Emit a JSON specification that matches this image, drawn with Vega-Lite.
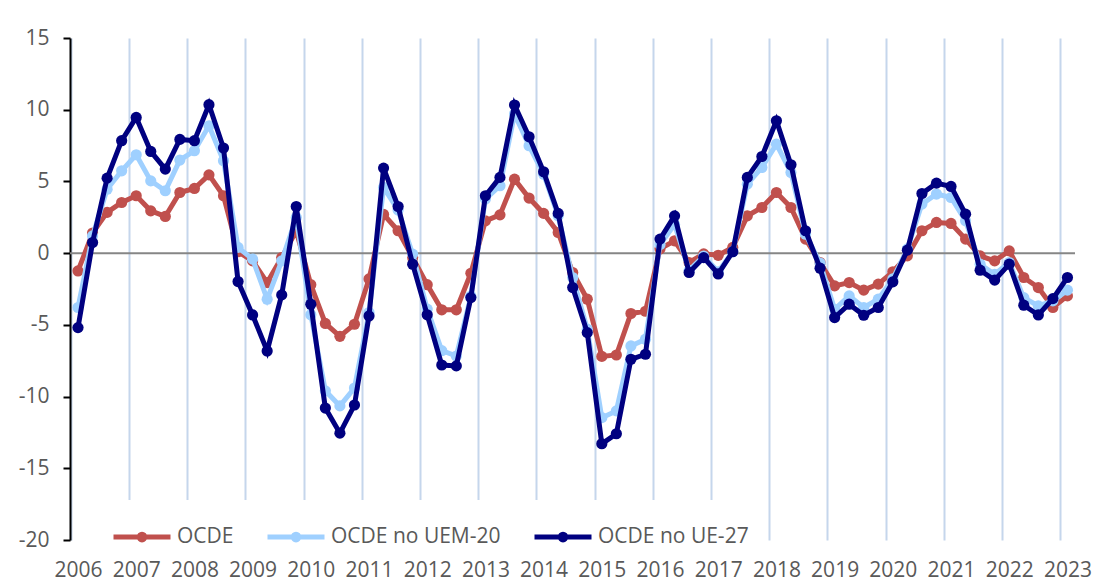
{
  "$schema": "https://vega.github.io/schema/vega-lite/v6.json",
  "width": 1005,
  "height": 502,
  "autosize": {"type": "none"},
  "padding": {"left": 70, "top": 38, "right": 19, "bottom": 42},
  "background": "white",
  "config": {"view": {"stroke": null}, "font": "Open Sans"},
  "datasets": {
    "d": [
      {"t":2006,"s":"OCDE","v":-1.24},{"t":2006.25,"s":"OCDE","v":1.4},{"t":2006.5,"s":"OCDE","v":2.84},{"t":2006.75,"s":"OCDE","v":3.53},
      {"t":2007,"s":"OCDE","v":4.0},{"t":2007.25,"s":"OCDE","v":2.95},{"t":2007.5,"s":"OCDE","v":2.56},{"t":2007.75,"s":"OCDE","v":4.23},
      {"t":2008,"s":"OCDE","v":4.51},{"t":2008.25,"s":"OCDE","v":5.46},{"t":2008.5,"s":"OCDE","v":4.0},{"t":2008.75,"s":"OCDE","v":0.1},
      {"t":2009,"s":"OCDE","v":-0.54},{"t":2009.25,"s":"OCDE","v":-2.05},{"t":2009.5,"s":"OCDE","v":-0.31},{"t":2009.75,"s":"OCDE","v":1.56},
      {"t":2010,"s":"OCDE","v":-2.2},{"t":2010.25,"s":"OCDE","v":-4.9},{"t":2010.5,"s":"OCDE","v":-5.8},{"t":2010.75,"s":"OCDE","v":-4.96},
      {"t":2011,"s":"OCDE","v":-1.8},{"t":2011.25,"s":"OCDE","v":2.7},{"t":2011.5,"s":"OCDE","v":1.56},{"t":2011.75,"s":"OCDE","v":-0.31},
      {"t":2012,"s":"OCDE","v":-2.2},{"t":2012.25,"s":"OCDE","v":-3.95},{"t":2012.5,"s":"OCDE","v":-3.95},{"t":2012.75,"s":"OCDE","v":-1.4},
      {"t":2013,"s":"OCDE","v":2.25},{"t":2013.25,"s":"OCDE","v":2.67},{"t":2013.5,"s":"OCDE","v":5.16},{"t":2013.75,"s":"OCDE","v":3.84},
      {"t":2014,"s":"OCDE","v":2.77},{"t":2014.25,"s":"OCDE","v":1.44},{"t":2014.5,"s":"OCDE","v":-1.35},{"t":2014.75,"s":"OCDE","v":-3.21},
      {"t":2015,"s":"OCDE","v":-7.2},{"t":2015.25,"s":"OCDE","v":-7.1},{"t":2015.5,"s":"OCDE","v":-4.21},{"t":2015.75,"s":"OCDE","v":-4.05},
      {"t":2016,"s":"OCDE","v":0.3},{"t":2016.25,"s":"OCDE","v":0.86},{"t":2016.5,"s":"OCDE","v":-0.65},{"t":2016.75,"s":"OCDE","v":-0.05},
      {"t":2017,"s":"OCDE","v":-0.15},{"t":2017.25,"s":"OCDE","v":0.4},{"t":2017.5,"s":"OCDE","v":2.6},{"t":2017.75,"s":"OCDE","v":3.18},
      {"t":2018,"s":"OCDE","v":4.23},{"t":2018.25,"s":"OCDE","v":3.18},{"t":2018.5,"s":"OCDE","v":0.98},{"t":2018.75,"s":"OCDE","v":-0.65},
      {"t":2019,"s":"OCDE","v":-2.28},{"t":2019.25,"s":"OCDE","v":-2.05},{"t":2019.5,"s":"OCDE","v":-2.58},{"t":2019.75,"s":"OCDE","v":-2.16},
      {"t":2020,"s":"OCDE","v":-1.3},{"t":2020.25,"s":"OCDE","v":-0.19},{"t":2020.5,"s":"OCDE","v":1.56},{"t":2020.75,"s":"OCDE","v":2.14},
      {"t":2021,"s":"OCDE","v":2.07},{"t":2021.25,"s":"OCDE","v":0.98},{"t":2021.5,"s":"OCDE","v":-0.19},{"t":2021.75,"s":"OCDE","v":-0.54},
      {"t":2022,"s":"OCDE","v":0.16},{"t":2022.25,"s":"OCDE","v":-1.7},{"t":2022.5,"s":"OCDE","v":-2.4},{"t":2022.75,"s":"OCDE","v":-3.79},
      {"t":2023,"s":"OCDE","v":-2.98},

      {"t":2006,"s":"OCDE no UEM-20","v":-3.79},{"t":2006.25,"s":"OCDE no UEM-20","v":1.2},{"t":2006.5,"s":"OCDE no UEM-20","v":4.46},{"t":2006.75,"s":"OCDE no UEM-20","v":5.74},
      {"t":2007,"s":"OCDE no UEM-20","v":6.86},{"t":2007.25,"s":"OCDE no UEM-20","v":5.04},{"t":2007.5,"s":"OCDE no UEM-20","v":4.35},{"t":2007.75,"s":"OCDE no UEM-20","v":6.49},
      {"t":2008,"s":"OCDE no UEM-20","v":7.14},{"t":2008.25,"s":"OCDE no UEM-20","v":8.88},{"t":2008.5,"s":"OCDE no UEM-20","v":6.44},{"t":2008.75,"s":"OCDE no UEM-20","v":0.4},
      {"t":2009,"s":"OCDE no UEM-20","v":-0.42},{"t":2009.25,"s":"OCDE no UEM-20","v":-3.21},{"t":2009.5,"s":"OCDE no UEM-20","v":-0.54},{"t":2009.75,"s":"OCDE no UEM-20","v":2.49},
      {"t":2010,"s":"OCDE no UEM-20","v":-4.3},{"t":2010.25,"s":"OCDE no UEM-20","v":-9.6},{"t":2010.5,"s":"OCDE no UEM-20","v":-10.65},{"t":2010.75,"s":"OCDE no UEM-20","v":-9.4},
      {"t":2011,"s":"OCDE no UEM-20","v":-4.14},{"t":2011.25,"s":"OCDE no UEM-20","v":4.58},{"t":2011.5,"s":"OCDE no UEM-20","v":3.0},{"t":2011.75,"s":"OCDE no UEM-20","v":-0.07},
      {"t":2012,"s":"OCDE no UEM-20","v":-3.9},{"t":2012.25,"s":"OCDE no UEM-20","v":-6.8},{"t":2012.5,"s":"OCDE no UEM-20","v":-7.17},{"t":2012.75,"s":"OCDE no UEM-20","v":-3.0},
      {"t":2013,"s":"OCDE no UEM-20","v":3.77},{"t":2013.25,"s":"OCDE no UEM-20","v":4.7},{"t":2013.5,"s":"OCDE no UEM-20","v":9.7},{"t":2013.75,"s":"OCDE no UEM-20","v":7.49},
      {"t":2014,"s":"OCDE no UEM-20","v":5.5},{"t":2014.25,"s":"OCDE no UEM-20","v":2.6},{"t":2014.5,"s":"OCDE no UEM-20","v":-1.7},{"t":2014.75,"s":"OCDE no UEM-20","v":-5.3},
      {"t":2015,"s":"OCDE no UEM-20","v":-11.47},{"t":2015.25,"s":"OCDE no UEM-20","v":-11.0},{"t":2015.5,"s":"OCDE no UEM-20","v":-6.47},{"t":2015.75,"s":"OCDE no UEM-20","v":-6.0},
      {"t":2016,"s":"OCDE no UEM-20","v":0.6},{"t":2016.25,"s":"OCDE no UEM-20","v":2.0},{"t":2016.5,"s":"OCDE no UEM-20","v":-1.2},{"t":2016.75,"s":"OCDE no UEM-20","v":-0.2},
      {"t":2017,"s":"OCDE no UEM-20","v":-1.3},{"t":2017.25,"s":"OCDE no UEM-20","v":0.1},{"t":2017.5,"s":"OCDE no UEM-20","v":4.81},{"t":2017.75,"s":"OCDE no UEM-20","v":5.97},
      {"t":2018,"s":"OCDE no UEM-20","v":7.6},{"t":2018.25,"s":"OCDE no UEM-20","v":5.62},{"t":2018.5,"s":"OCDE no UEM-20","v":1.32},{"t":2018.75,"s":"OCDE no UEM-20","v":-0.7},
      {"t":2019,"s":"OCDE no UEM-20","v":-3.91},{"t":2019.25,"s":"OCDE no UEM-20","v":-2.98},{"t":2019.5,"s":"OCDE no UEM-20","v":-3.79},{"t":2019.75,"s":"OCDE no UEM-20","v":-3.21},
      {"t":2020,"s":"OCDE no UEM-20","v":-1.8},{"t":2020.25,"s":"OCDE no UEM-20","v":0.3},{"t":2020.5,"s":"OCDE no UEM-20","v":3.42},{"t":2020.75,"s":"OCDE no UEM-20","v":4.12},
      {"t":2021,"s":"OCDE no UEM-20","v":3.88},{"t":2021.25,"s":"OCDE no UEM-20","v":2.25},{"t":2021.5,"s":"OCDE no UEM-20","v":-0.77},{"t":2021.75,"s":"OCDE no UEM-20","v":-1.47},
      {"t":2022,"s":"OCDE no UEM-20","v":-0.65},{"t":2022.25,"s":"OCDE no UEM-20","v":-3.1},{"t":2022.5,"s":"OCDE no UEM-20","v":-3.68},{"t":2022.75,"s":"OCDE no UEM-20","v":-3.33},
      {"t":2023,"s":"OCDE no UEM-20","v":-2.58},

      {"t":2006,"s":"OCDE no UE-27","v":-5.19},{"t":2006.25,"s":"OCDE no UE-27","v":0.74},{"t":2006.5,"s":"OCDE no UE-27","v":5.23},{"t":2006.75,"s":"OCDE no UE-27","v":7.84},
      {"t":2007,"s":"OCDE no UE-27","v":9.46},{"t":2007.25,"s":"OCDE no UE-27","v":7.09},{"t":2007.5,"s":"OCDE no UE-27","v":5.86},{"t":2007.75,"s":"OCDE no UE-27","v":7.93},
      {"t":2008,"s":"OCDE no UE-27","v":7.84},{"t":2008.25,"s":"OCDE no UE-27","v":10.35},{"t":2008.5,"s":"OCDE no UE-27","v":7.33},{"t":2008.75,"s":"OCDE no UE-27","v":-1.98},
      {"t":2009,"s":"OCDE no UE-27","v":-4.31},{"t":2009.25,"s":"OCDE no UE-27","v":-6.82},{"t":2009.5,"s":"OCDE no UE-27","v":-2.91},{"t":2009.75,"s":"OCDE no UE-27","v":3.25},
      {"t":2010,"s":"OCDE no UE-27","v":-3.56},{"t":2010.25,"s":"OCDE no UE-27","v":-10.8},{"t":2010.5,"s":"OCDE no UE-27","v":-12.55},{"t":2010.75,"s":"OCDE no UE-27","v":-10.59},
      {"t":2011,"s":"OCDE no UE-27","v":-4.38},{"t":2011.25,"s":"OCDE no UE-27","v":5.93},{"t":2011.5,"s":"OCDE no UE-27","v":3.25},{"t":2011.75,"s":"OCDE no UE-27","v":-0.77},
      {"t":2012,"s":"OCDE no UE-27","v":-4.3},{"t":2012.25,"s":"OCDE no UE-27","v":-7.8},{"t":2012.5,"s":"OCDE no UE-27","v":-7.86},{"t":2012.75,"s":"OCDE no UE-27","v":-3.1},
      {"t":2013,"s":"OCDE no UE-27","v":4.0},{"t":2013.25,"s":"OCDE no UE-27","v":5.28},{"t":2013.5,"s":"OCDE no UE-27","v":10.33},{"t":2013.75,"s":"OCDE no UE-27","v":8.11},
      {"t":2014,"s":"OCDE no UE-27","v":5.67},{"t":2014.25,"s":"OCDE no UE-27","v":2.77},{"t":2014.5,"s":"OCDE no UE-27","v":-2.4},{"t":2014.75,"s":"OCDE no UE-27","v":-5.54},
      {"t":2015,"s":"OCDE no UE-27","v":-13.29},{"t":2015.25,"s":"OCDE no UE-27","v":-12.59},{"t":2015.5,"s":"OCDE no UE-27","v":-7.4},{"t":2015.75,"s":"OCDE no UE-27","v":-7.05},
      {"t":2016,"s":"OCDE no UE-27","v":0.98},{"t":2016.25,"s":"OCDE no UE-27","v":2.6},{"t":2016.5,"s":"OCDE no UE-27","v":-1.35},{"t":2016.75,"s":"OCDE no UE-27","v":-0.31},
      {"t":2017,"s":"OCDE no UE-27","v":-1.45},{"t":2017.25,"s":"OCDE no UE-27","v":0.1},{"t":2017.5,"s":"OCDE no UE-27","v":5.28},{"t":2017.75,"s":"OCDE no UE-27","v":6.74},
      {"t":2018,"s":"OCDE no UE-27","v":9.23},{"t":2018.25,"s":"OCDE no UE-27","v":6.16},{"t":2018.5,"s":"OCDE no UE-27","v":1.56},{"t":2018.75,"s":"OCDE no UE-27","v":-1.05},
      {"t":2019,"s":"OCDE no UE-27","v":-4.49},{"t":2019.25,"s":"OCDE no UE-27","v":-3.56},{"t":2019.5,"s":"OCDE no UE-27","v":-4.33},{"t":2019.75,"s":"OCDE no UE-27","v":-3.79},
      {"t":2020,"s":"OCDE no UE-27","v":-2.0},{"t":2020.25,"s":"OCDE no UE-27","v":0.21},{"t":2020.5,"s":"OCDE no UE-27","v":4.16},{"t":2020.75,"s":"OCDE no UE-27","v":4.88},
      {"t":2021,"s":"OCDE no UE-27","v":4.65},{"t":2021.25,"s":"OCDE no UE-27","v":2.72},{"t":2021.5,"s":"OCDE no UE-27","v":-1.19},{"t":2021.75,"s":"OCDE no UE-27","v":-1.88},
      {"t":2022,"s":"OCDE no UE-27","v":-0.77},{"t":2022.25,"s":"OCDE no UE-27","v":-3.63},{"t":2022.5,"s":"OCDE no UE-27","v":-4.31},{"t":2022.75,"s":"OCDE no UE-27","v":-3.17},
      {"t":2023,"s":"OCDE no UE-27","v":-1.7}
    ]
  },
  "layer": [
    {
      "data": {"values": [{}]},
      "mark": {"type": "rule", "color": "#868686", "strokeWidth": 2},
      "encoding": {
        "y": {"datum": 0, "type": "quantitative", "scale": {"domain": [-20, 15], "nice": false, "zero": false},
          "axis": {"title": null, "values": [-20,-15,-10,-5,0,5,10,15], "labelExpr": "toString(datum.value)", "grid": false, "domainColor": "black", "domainWidth": 2, "tickColor": "black", "tickWidth": 2, "tickSize": 7, "labelFont": "Open Sans", "labelFontSize": 21, "labelColor": "#595959", "labelPadding": 14}}
      }
    },
    {
      "data": {"name": "d"},
      "transform": [{"filter": "datum.s === 'OCDE'"}],
      "mark": {"type": "line", "strokeWidth": 5, "point": {"filled": true, "size": 125, "opacity": 1}},
      "encoding": {
        "x": {"field": "t", "type": "quantitative", "scale": {"domain": [2005.8625, 2023.13], "nice": false, "zero": false},
          "axis": {"title": null, "values": [2006,2007,2008,2009,2010,2011,2012,2013,2014,2015,2016,2017,2018,2019,2020,2021,2022,2023], "format": "d", "domain": false, "ticks": false, "grid": true, "gridColor": "#C5D6EC", "gridWidth": 2, "tickOffset": -7.3, "labelOffset": 7.3, "labelFont": "Open Sans", "labelFontSize": 21, "labelColor": "#595959", "labelPadding": 19, "labelFlush": false, "labelOverlap": false}},
        "y": {"field": "v", "type": "quantitative", "scale": {"domain": [-20, 15], "nice": false, "zero": false},
          "axis": {"title": null, "values": [-20,-15,-10,-5,0,5,10,15], "labelExpr": "toString(datum.value)", "grid": false, "domainColor": "black", "domainWidth": 2, "tickColor": "black", "tickWidth": 2, "tickSize": 7, "labelFont": "Open Sans", "labelFontSize": 21, "labelColor": "#595959", "labelPadding": 14}},
        "color": {"field": "s", "type": "nominal",
          "scale": {"domain": ["OCDE", "OCDE no UEM-20", "OCDE no UE-27"], "range": ["#C0504D", "#9FD0FF", "#000080"]},
          "legend": {"title": null, "orient": "none", "legendX": 35, "legendY": 462, "direction": "horizontal", "fillColor": "white", "padding": 6, "symbolType": "M-1,0H1M-0.1,0A0.1,0.1 0 1,1 0.1,0A0.1,0.1 0 1,1 -0.1,0Z", "symbolSize": 3249, "symbolStrokeWidth": 5, "symbolOpacity": 1, "labelFont": "Open Sans", "labelFontSize": 21, "labelColor": "#595959", "labelOffset": 4, "columnPadding": 23, "labelLimit": 400}}
      }
    },
    {
      "data": {"name": "d"},
      "transform": [{"filter": "datum.s === 'OCDE no UEM-20'"}],
      "mark": {"type": "line", "strokeWidth": 5, "point": {"filled": true, "size": 125, "opacity": 1}},
      "encoding": {
        "x": {"field": "t", "type": "quantitative", "scale": {"domain": [2005.8625, 2023.13], "nice": false, "zero": false},
          "axis": {"title": null, "values": [2006,2007,2008,2009,2010,2011,2012,2013,2014,2015,2016,2017,2018,2019,2020,2021,2022,2023], "format": "d", "domain": false, "ticks": false, "grid": true, "gridColor": "#C5D6EC", "gridWidth": 2, "tickOffset": -7.3, "labelOffset": 7.3, "labelFont": "Open Sans", "labelFontSize": 21, "labelColor": "#595959", "labelPadding": 19, "labelFlush": false, "labelOverlap": false}},
        "y": {"field": "v", "type": "quantitative", "scale": {"domain": [-20, 15], "nice": false, "zero": false},
          "axis": {"title": null, "values": [-20,-15,-10,-5,0,5,10,15], "labelExpr": "toString(datum.value)", "grid": false, "domainColor": "black", "domainWidth": 2, "tickColor": "black", "tickWidth": 2, "tickSize": 7, "labelFont": "Open Sans", "labelFontSize": 21, "labelColor": "#595959", "labelPadding": 14}},
        "color": {"field": "s", "type": "nominal",
          "scale": {"domain": ["OCDE", "OCDE no UEM-20", "OCDE no UE-27"], "range": ["#C0504D", "#9FD0FF", "#000080"]},
          "legend": {"title": null, "orient": "none", "legendX": 35, "legendY": 462, "direction": "horizontal", "fillColor": "white", "padding": 6, "symbolType": "M-1,0H1M-0.1,0A0.1,0.1 0 1,1 0.1,0A0.1,0.1 0 1,1 -0.1,0Z", "symbolSize": 3249, "symbolStrokeWidth": 5, "symbolOpacity": 1, "labelFont": "Open Sans", "labelFontSize": 21, "labelColor": "#595959", "labelOffset": 4, "columnPadding": 23, "labelLimit": 400}}
      }
    },
    {
      "data": {"name": "d"},
      "transform": [{"filter": "datum.s === 'OCDE no UE-27'"}],
      "mark": {"type": "line", "strokeWidth": 5, "point": {"filled": true, "size": 125, "opacity": 1}},
      "encoding": {
        "x": {"field": "t", "type": "quantitative", "scale": {"domain": [2005.8625, 2023.13], "nice": false, "zero": false},
          "axis": {"title": null, "values": [2006,2007,2008,2009,2010,2011,2012,2013,2014,2015,2016,2017,2018,2019,2020,2021,2022,2023], "format": "d", "domain": false, "ticks": false, "grid": true, "gridColor": "#C5D6EC", "gridWidth": 2, "tickOffset": -7.3, "labelOffset": 7.3, "labelFont": "Open Sans", "labelFontSize": 21, "labelColor": "#595959", "labelPadding": 19, "labelFlush": false, "labelOverlap": false}},
        "y": {"field": "v", "type": "quantitative", "scale": {"domain": [-20, 15], "nice": false, "zero": false},
          "axis": {"title": null, "values": [-20,-15,-10,-5,0,5,10,15], "labelExpr": "toString(datum.value)", "grid": false, "domainColor": "black", "domainWidth": 2, "tickColor": "black", "tickWidth": 2, "tickSize": 7, "labelFont": "Open Sans", "labelFontSize": 21, "labelColor": "#595959", "labelPadding": 14}},
        "color": {"field": "s", "type": "nominal",
          "scale": {"domain": ["OCDE", "OCDE no UEM-20", "OCDE no UE-27"], "range": ["#C0504D", "#9FD0FF", "#000080"]},
          "legend": {"title": null, "orient": "none", "legendX": 35, "legendY": 462, "direction": "horizontal", "fillColor": "white", "padding": 6, "symbolType": "M-1,0H1M-0.1,0A0.1,0.1 0 1,1 0.1,0A0.1,0.1 0 1,1 -0.1,0Z", "symbolSize": 3249, "symbolStrokeWidth": 5, "symbolOpacity": 1, "labelFont": "Open Sans", "labelFontSize": 21, "labelColor": "#595959", "labelOffset": 4, "columnPadding": 23, "labelLimit": 400}}
      }
    }
  ]
}
